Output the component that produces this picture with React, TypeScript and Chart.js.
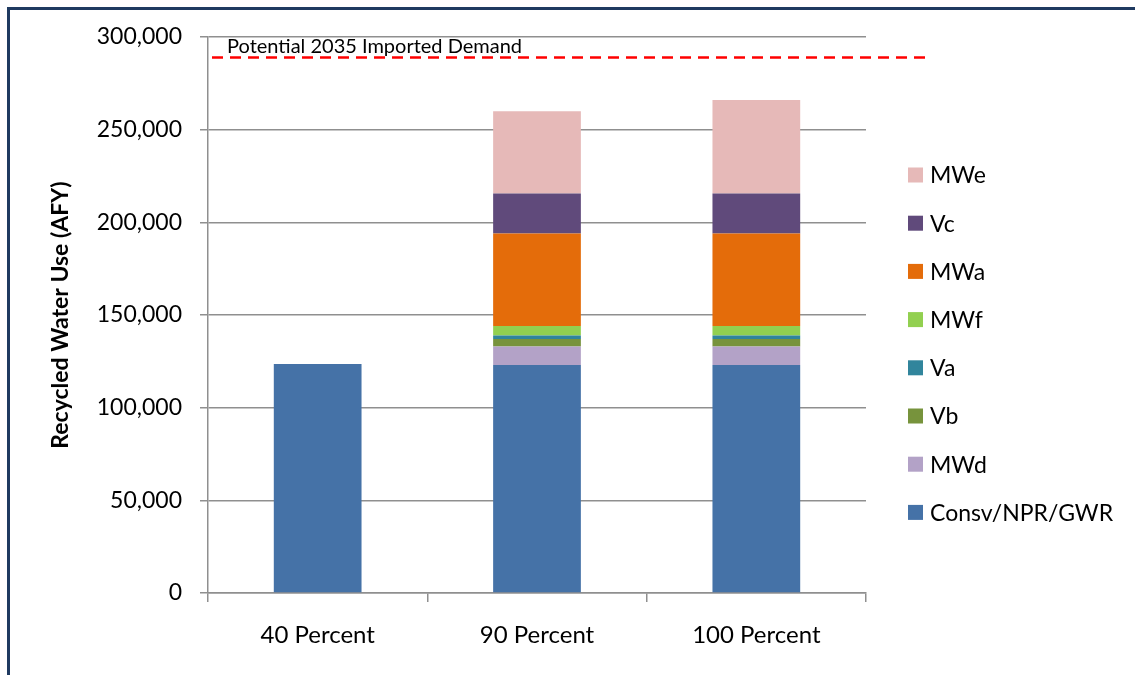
import React, { useEffect, useRef } from "react";
import { Chart, registerables } from "chart.js";

Chart.register(...registerables);

// Scenario categories on the x axis
const CATEGORIES = ["40 Percent", "90 Percent", "100 Percent"];

// Recycled water use by source (AFY), stacked bottom to top
const CONSV_NPR_GWR = [123500, 123000, 123000];
const MWD = [null, 10000, 10000];
const VB = [null, 4000, 4000];
const VA = [null, 2000, 2000];
const MWF = [null, 5000, 5000];
const MWA = [null, 50000, 50000];
const VC = [null, 21500, 21500];
const MWE = [null, 44500, 50500];

// Reference level drawn as a dashed line
const IMPORTED_DEMAND = 289000;
const IMPORTED_DEMAND_LABEL = "Potential 2035 Imported Demand";

// Value axis range
const Y_MIN = 0;
const Y_MAX = 300000;
const Y_STEP = 50000;

const SERIES_LABELS = ["Consv/NPR/GWR", "MWd", "Vb", "Va", "MWf", "MWa", "Vc", "MWe"];
const SERIES_VALUES = [CONSV_NPR_GWR, MWD, VB, VA, MWF, MWA, VC, MWE];
const SERIES_COLORS = ["#4572A7", "#B3A2C7", "#77933C", "#31859C", "#92D050", "#E46C0A", "#604A7B", "#E6B9B8"];

const FONT = "Lato, 'Open Sans', sans-serif";
const GRID = "#8f8f8f";

// Dashed demand line with its caption, positioned through the y scale
const demandLine = {
  id: "demandLine",
  afterDatasetsDraw(chart: any) {
    const { ctx, chartArea, scales } = chart;
    const py = scales.y.getPixelForValue(IMPORTED_DEMAND);
    ctx.save();
    ctx.strokeStyle = "#FF0000";
    ctx.lineWidth = 2.5;
    ctx.setLineDash([11, 7]);
    ctx.beginPath();
    ctx.moveTo(chartArea.left + 4, py);
    ctx.lineTo(chartArea.right + 64, py);
    ctx.stroke();
    ctx.setLineDash([]);
    ctx.fillStyle = "#000";
    ctx.font = `20px ${FONT}`;
    ctx.textBaseline = "alphabetic";
    ctx.textAlign = "left";
    ctx.fillText(IMPORTED_DEMAND_LABEL, chartArea.left + 19, py - 4);
    ctx.restore();
  },
};

// Legend on the right, listed top series first
const sideLegend = {
  id: "sideLegend",
  afterDraw(chart: any) {
    const { ctx, chartArea } = chart;
    const items = chart.data.datasets.slice().reverse();
    const x = chartArea.right + 42;
    const y0 = 175;
    const step = 48.2;
    ctx.save();
    ctx.font = `23px ${FONT}`;
    ctx.textBaseline = "middle";
    ctx.textAlign = "left";
    items.forEach((ds: any, i: number) => {
      const cy = y0 + i * step;
      ctx.fillStyle = ds.backgroundColor;
      ctx.fillRect(x, cy - 7.5, 15, 15);
      ctx.fillStyle = "#000";
      ctx.fillText(ds.label, x + 22, cy + 1);
    });
    ctx.restore();
  },
};

export default function App() {
  const canvasRef = useRef<HTMLCanvasElement | null>(null);

  useEffect(() => {
    if (!canvasRef.current) return;
    const chart = new Chart(canvasRef.current, {
      type: "bar",
      data: {
        labels: CATEGORIES,
        datasets: SERIES_LABELS.map((label, i) => ({
          label,
          data: SERIES_VALUES[i],
          backgroundColor: SERIES_COLORS[i],
          borderWidth: 0,
          stack: "use",
          barPercentage: 0.4,
          categoryPercentage: 1,
        })),
      },
      options: {
        responsive: false,
        animation: false,
        layout: { padding: { left: 47, top: 37, right: 269, bottom: 0 } },
        plugins: {
          legend: { display: false },
          tooltip: { enabled: false },
        },
        scales: {
          x: {
            stacked: true,
            grid: {
              display: true,
              drawOnChartArea: false,
              drawTicks: true,
              tickLength: 9,
              color: GRID,
              lineWidth: 1.5,
              offset: true,
            },
            border: { display: true, color: GRID, width: 1.5 },
            ticks: { color: "#000", font: { family: FONT, size: 24 }, padding: 19 },
            afterFit: (s: any) => {
              s.height = 82;
            },
          },
          y: {
            stacked: true,
            min: Y_MIN,
            max: Y_MAX,
            ticks: {
              stepSize: Y_STEP,
              color: "#000",
              font: { family: FONT, size: 23 },
              padding: 18,
              callback: (v: any) => Number(v).toLocaleString("en-US"),
            },
            grid: { color: GRID, lineWidth: 1.5, tickLength: 8, drawTicks: true },
            border: { display: true, color: GRID, width: 1.5 },
            title: {
              display: true,
              text: "Recycled Water Use (AFY)",
              color: "#000",
              font: { family: FONT, size: 23, weight: "bold" },
              padding: 0,
            },
            afterFit: (s: any) => {
              s.width = 161;
            },
          },
        },
      },
      plugins: [demandLine, sideLegend],
    });
    return () => chart.destroy();
  }, []);

  return (
    <div style={{ position: "fixed", left: 0, top: 0, width: 1135, height: 675, background: "#fff" }}>
      <div
        style={{
          position: "absolute",
          left: 7,
          top: 7,
          width: 1200,
          height: 800,
          borderTop: "3px solid #1F3A60",
          borderLeft: "3px solid #1F3A60",
          boxSizing: "border-box",
        }}
      />
      <canvas ref={canvasRef} width={1135} height={675} style={{ position: "absolute", left: 0, top: 0 }} />
    </div>
  );
}
